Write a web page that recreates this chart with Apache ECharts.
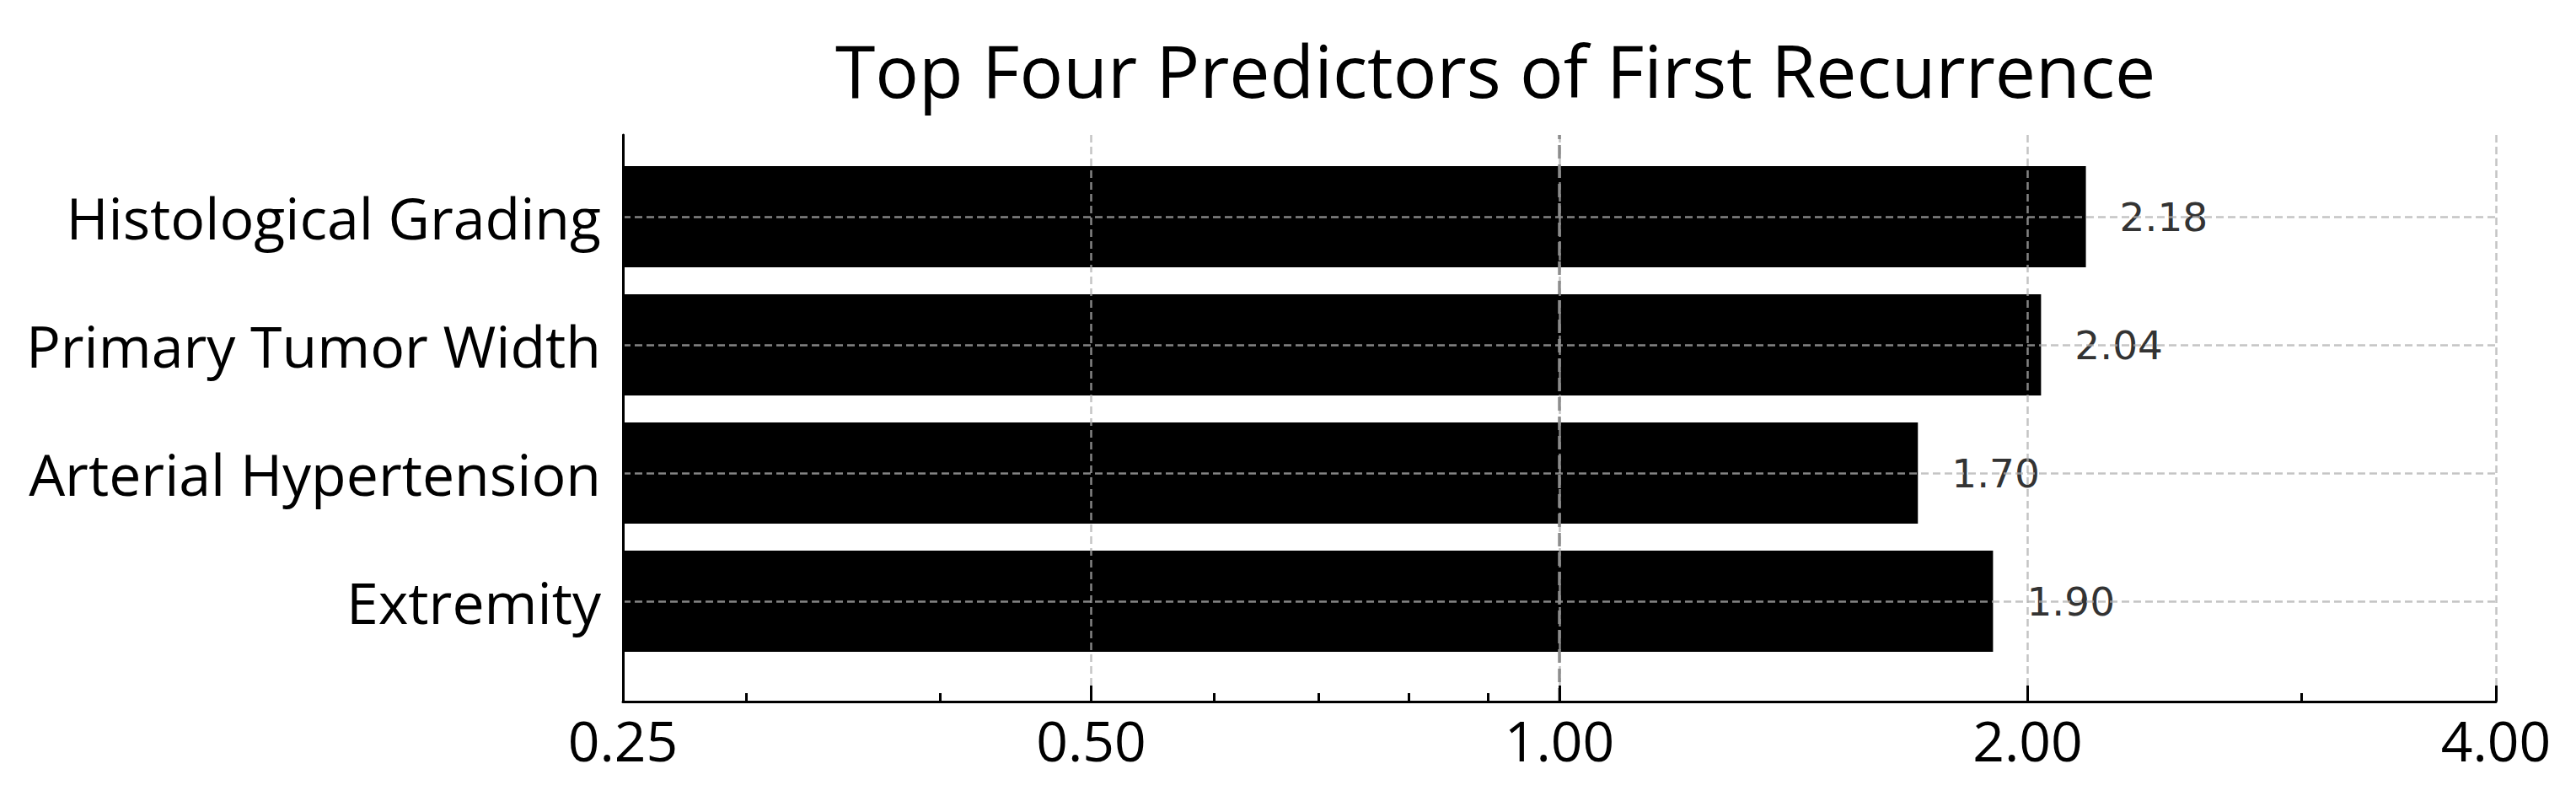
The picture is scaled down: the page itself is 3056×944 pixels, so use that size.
<!DOCTYPE html>
<html>
<head>
<meta charset="utf-8">
<title>Top Four Predictors of First Recurrence</title>
<script src="https://cdn.jsdelivr.net/npm/echarts@6/dist/echarts.min.js"></script>
<style>
  html, body { margin: 0; padding: 0; background: #ffffff; }
  #chart { width: 3056px; height: 944px; }
</style>
</head>
<body>
<div id="chart"></div>
<script>
// ---- data ----
const chartTitle = 'Top Four Predictors of First Recurrence';
const categories = ['Histological Grading', 'Primary Tumor Width', 'Arterial Hypertension', 'Extremity'];
const values = [2.18, 2.04, 1.70, 1.90];
const axisMin = 0.25;
const axisMax = 4;
const majorTicks = [0.25, 0.5, 1, 2, 4];
const minorTicks = [0.3, 0.4, 0.6, 0.7, 0.8, 0.9, 3];
const referenceValue = 1;

// ---- styles ----
const gridColor = 'rgba(176,176,176,0.75)';
const gridDash = [9, 5];
const labelFont = 'Open Sans';
const valueFont = 'DejaVu Sans';

const chart = echarts.init(document.getElementById('chart'), null, { renderer: 'svg' });

const plotLeft = 739, plotRight = 95;

const option = {
  backgroundColor: '#ffffff',
  animation: false,
  title: {
    text: chartTitle,
    left: 986,
    top: 34,
    textStyle: { fontFamily: labelFont, fontSize: 86, fontWeight: 'normal', color: '#000000' }
  },
  grid: [
    { left: plotLeft, right: plotRight, top: 160, bottom: 112, containLabel: false },
    { left: plotLeft, right: plotRight, top: 257, bottom: 231, containLabel: false }
  ],
  xAxis: [
    {
      gridIndex: 0, type: 'log', logBase: 2, min: axisMin, max: axisMax,
      position: 'bottom', z: 5,
      axisLine: { show: true, onZero: false, lineStyle: { color: '#000000', width: 3 } },
      axisTick: { show: true, inside: true, length: 19, lineStyle: { color: '#000000', width: 3 } },
      axisLabel: {
        show: true, margin: 12, fontFamily: labelFont, fontSize: 66, color: '#000000',
        customValues: majorTicks,
        formatter: v => Number(v).toFixed(2)
      },
      splitLine: { show: true, lineStyle: { color: gridColor, width: 2.5, type: gridDash } },
      minorTick: { show: false }
    },
    {
      gridIndex: 0, type: 'value', min: Math.log2(axisMin), max: Math.log2(axisMax),
      position: 'bottom', z: 6,
      axisLine: { show: false, onZero: false },
      axisTick: {
        show: true, inside: true, length: 10,
        customValues: minorTicks.map(v => Math.log2(v)),
        lineStyle: { color: '#000000', width: 3 }
      },
      axisLabel: { show: false },
      splitLine: { show: false }
    },
    {
      gridIndex: 1, type: 'log', logBase: 2, min: axisMin, max: axisMax,
      startValue: axisMin,
      show: false,
      axisLine: { onZero: false }
    }
  ],
  yAxis: [
    {
      gridIndex: 0, type: 'value', min: 0, max: 1, z: 7,
      axisLine: { show: true, onZero: false, lineStyle: { color: '#000000', width: 3 } },
      axisTick: { show: false },
      axisLabel: { show: false },
      splitLine: { show: false }
    },
    {
      gridIndex: 1, type: 'category', data: categories, inverse: true, boundaryGap: false, z: 5,
      axisLine: { show: false, onZero: false },
      axisTick: { show: false },
      axisLabel: { show: true, margin: 26, fontFamily: labelFont, fontSize: 68, color: '#000000' },
      splitLine: { show: true, lineStyle: { color: gridColor, width: 2.5, type: gridDash } }
    }
  ],
  series: [
    {
      type: 'bar',
      xAxisIndex: 2, yAxisIndex: 1,
      data: values,
      barWidth: 120,
      clip: false,
      z: 2,
      itemStyle: { color: '#000000' },
      label: {
        show: true, position: 'right', distance: 40,
        fontFamily: valueFont, fontSize: 47, color: '#333333',
        formatter: p => Number(p.value).toFixed(2)
      }
    },
    {
      type: 'line',
      xAxisIndex: 0, yAxisIndex: 0,
      data: [],
      z: 4,
      silent: true,
      markLine: {
        silent: true,
        symbol: ['none', 'none'],
        label: { show: false },
        lineStyle: { color: '#8c8c8c', width: 3.5, type: [16, 7] },
        data: [{ xAxis: referenceValue }]
      }
    }
  ]
};

chart.setOption(option);
</script>
</body>
</html>
